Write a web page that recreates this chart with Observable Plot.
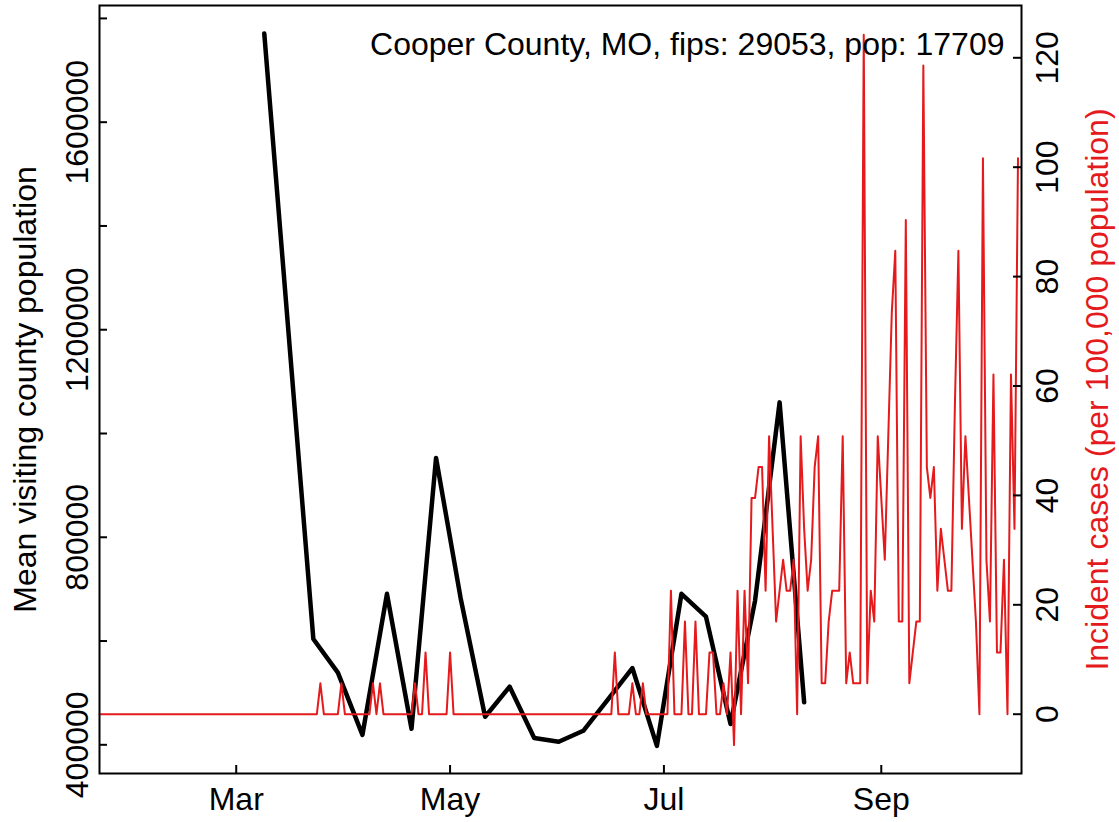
<!DOCTYPE html>
<html><head><meta charset="utf-8">
<script src="https://cdn.jsdelivr.net/npm/d3@7"></script>
<script src="https://cdn.jsdelivr.net/npm/@observablehq/plot@0.6"></script>
<style>
html,body{margin:0;padding:0;background:#fff;}
</style></head><body><div id="chart"></div>
<script>
// ---------- data ----------
const countyTitle = "Cooper County, MO, fips: 29053, pop: 17709";
const countyPop = 17709;
const leftTitle = "Mean visiting county population";
const rightTitle = "Incident cases (per 100,000 population)";

// weekly mean visiting county population (black line)
const visitDates = ["2020-03-09","2020-03-23","2020-03-30","2020-04-06","2020-04-13","2020-04-20","2020-04-27",
  "2020-05-04","2020-05-11","2020-05-18","2020-05-25","2020-06-01","2020-06-08","2020-06-15","2020-06-22",
  "2020-06-29","2020-07-06","2020-07-13","2020-07-20","2020-07-27","2020-08-03","2020-08-10"];
const visitPop = [1771000, 604000, 539000, 419000, 691000, 431000, 953000,
  683000, 454000, 512000, 413000, 406000, 427000, 487000, 548000,
  398000, 691000, 647000, 440000, 678000, 1060000, 482000];

// daily incident cases (counts), starting 2020-01-22
const caseStart = "2020-01-22";
const casesJan = [0,0,0,0,0,0,0,0,0,0];
const casesFeb = [0,0,0,0,0,0,0,0,0,0,0,0,0,0,0,0,0,0,0,0,0,0,0,0,0,0,0,0,0];
const casesMar = [0,0,0,0,0,0,0,0,0,0,0,0,0,0,0,0,0,0,0,0,0,0,0,0,1,0,0,0,0,0,1];
const casesApr = [0,0,0,0,0,0,0,0,1,0,1,0,0,0,0,0,0,0,0,0,1,0,0,2,0,0,0,0,0,0];
const casesMay = [2,0,0,0,0,0,0,0,0,0,0,0,0,0,0,0,0,0,0,0,0,0,0,0,0,0,0,0,0,0,0];
const casesJun = [0,0,0,0,0,0,0,0,0,0,0,0,0,0,0,0,2,0,0,0,0,1,0,0,1,0,0,0,0,0];
const casesJul = [0,0,4,0,0,0,3,0,0,3,0,0,0,2,2,0,0,1,0,2,-1,4,0,4,1,7,7,8,8,4,9];
const casesAug = [6,3,4,5,4,4,5,0,9,6,4,5,8,9,1,1,3,4,4,4,9,1,2,1,1,1,22,1,4,3,9];
const casesSep = [7,5,9,13,15,3,3,16,1,2,3,3,21,8,7,8,4,6,5,4,4,10,15,6,9,7,5,3,0,18];
const casesOct = [5,3,11,2,2,5,0,11,6,18];

// axes
const xDomain = ["2020-01-22","2020-10-11"];
const monthTickDates = ["2020-03-01","2020-05-01","2020-07-01","2020-09-01"];
const monthTickLabels = ["Mar","May","Jul","Sep"];
const leftTicks = [400000,600000,800000,1000000,1200000,1400000,1600000,1800000];
const leftLabels = [400000,800000,1200000,1600000];
const rightTicks = [0,20,40,60,80,100,120];
const popDomain = [344700, 1824900];
const rateDomain = [-10.84, 129.56];

// ---------- build ----------
const RED = "#e41a1c";
const FONT = "'Liberation Sans', Arial, Helvetica, sans-serif";
const FS = 32;
const W = 1119, H = 822;
const mL = 99, mR = 98, mT = 5, mB = 49;
const fw = W - mL - mR, fh = H - mT - mB;
const day = 24*3600*1000;
const utc = s => new Date(s + "T00:00:00Z");

const rateToPop = r => popDomain[0] + (r - rateDomain[0]) * (popDomain[1]-popDomain[0]) / (rateDomain[1]-rateDomain[0]);
const popToRate = p => rateDomain[0] + (p - popDomain[0]) * (rateDomain[1]-rateDomain[0]) / (popDomain[1]-popDomain[0]);

const visits = visitDates.map((d, i) => ({date: utc(d), value: visitPop[i]}));
const allCases = [].concat(casesJan, casesFeb, casesMar, casesApr, casesMay, casesJun, casesJul, casesAug, casesSep, casesOct);
const t0 = utc(caseStart).getTime();
const incidents = allCases.map((c, i) => ({date: new Date(t0 + i*day), rate: c * 100000 / countyPop}));
const monthDates = monthTickDates.map(utc);
const monthLabelMap = new Map(monthDates.map((d, i) => [+d, monthTickLabels[i]]));

const chart = Plot.plot({
  width: W, height: H,
  marginLeft: mL, marginRight: mR, marginTop: mT, marginBottom: mB,
  style: {fontFamily: FONT, fontSize: FS + "px", background: "#fff", color: "#000", overflow: "visible"},
  x: {type: "utc", domain: xDomain.map(utc)},
  y: {domain: popDomain},
  marks: [
    Plot.line(visits, {x: "date", y: "value", stroke: "#000", strokeWidth: 4.5, strokeLinejoin: "round", strokeLinecap: "round"}),
    Plot.line(incidents, {x: "date", y: d => rateToPop(d.rate), stroke: RED, strokeWidth: 2, strokeLinejoin: "round"}),
    Plot.frame({stroke: "#000", strokeWidth: 2}),
    Plot.tickY(leftTicks, {y: d => d, stroke: "#000", strokeWidth: 2, insetRight: fw - 8}),
    Plot.tickY(rightTicks, {y: r => rateToPop(r), stroke: "#000", strokeWidth: 2, insetLeft: fw - 8}),
    Plot.tickX(monthDates, {x: d => d, stroke: "#000", strokeWidth: 2, insetTop: fh - 8}),
    Plot.axisY(leftLabels, {anchor: "left", tickSize: 0, tickPadding: 12, tickRotate: -90, lineAnchor: "bottom",
      tickFormat: d3.format("d"), label: null, fontSize: FS}),
    Plot.axisY(rightTicks.map(rateToPop), {anchor: "right", tickSize: 0, tickPadding: 14, tickRotate: -90, lineAnchor: "top",
      tickFormat: p => String(Math.round(popToRate(p))), label: null, fontSize: FS}),
    Plot.axisX(monthDates, {anchor: "bottom", tickSize: 0, tickPadding: 14,
      tickFormat: d => monthLabelMap.get(+d), label: null, fontSize: FS}),
    Plot.text([countyTitle], {frameAnchor: "top-right", text: d => d, textAnchor: "end", lineAnchor: "top",
      dx: -17, dy: 27, fontSize: FS, fill: "#000"}),
    Plot.text([leftTitle], {frameAnchor: "left", text: d => d, rotate: -90, textAnchor: "middle", lineAnchor: "bottom",
      dx: -64, fontSize: FS, fill: "#000"}),
    Plot.text([rightTitle], {frameAnchor: "right", text: d => d, rotate: -90, textAnchor: "middle", lineAnchor: "bottom",
      dx: 86, fontSize: FS, fill: RED})
  ]
});
document.getElementById("chart").appendChild(chart);
</script>
</body></html>
